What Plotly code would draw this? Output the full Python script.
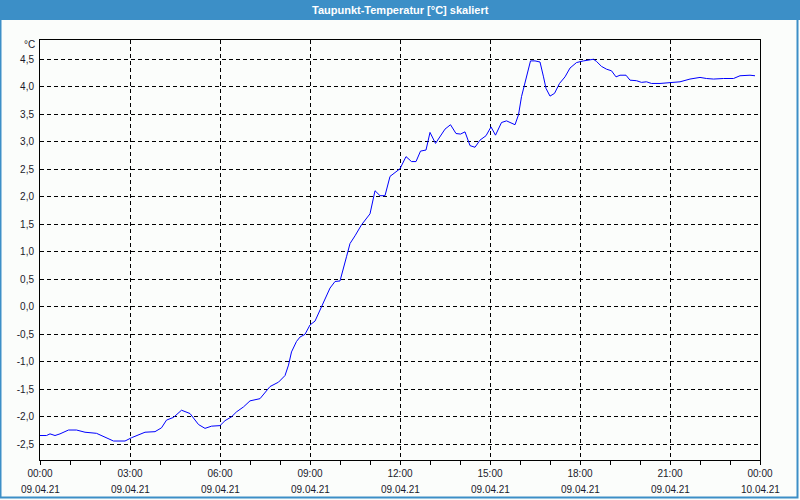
import plotly.graph_objects as go
import pandas as pd

# minutes after 09.04.21 00:00
minutes = [0, 13, 20, 30, 40, 57, 73, 90, 113, 130, 147, 170, 183, 210, 230, 243, 253, 267,
           283, 300, 317, 330, 343, 360, 370, 383, 393, 407, 420, 440, 447, 460, 477, 490,
           497, 503, 513, 520, 530, 540, 550, 560, 570, 580, 590, 600, 613, 620, 630, 643,
           660, 670, 680, 690, 700, 720, 732, 743, 752, 761, 772, 780, 791, 800, 810, 821,
           832, 841, 850, 860, 870, 880, 892, 902, 911, 923, 933, 950, 957, 963, 973, 981,
           990, 1000, 1007, 1012, 1020, 1029, 1039, 1050, 1060, 1073, 1087, 1097, 1107, 1113,
           1123, 1133, 1143, 1152, 1160, 1172, 1180, 1193, 1203, 1213, 1223, 1240, 1260, 1280,
           1300, 1320, 1333, 1347, 1367, 1387, 1400, 1420, 1430]
dewpoint = [-2.34, -2.34, -2.31, -2.34, -2.31, -2.24, -2.24, -2.28, -2.30, -2.37, -2.44, -2.44,
            -2.38, -2.28, -2.27, -2.20, -2.06, -2.01, -1.88, -1.94, -2.14, -2.21, -2.17, -2.16,
            -2.07, -2.00, -1.91, -1.82, -1.71, -1.67, -1.59, -1.45, -1.37, -1.25, -1.06, -0.82,
            -0.63, -0.55, -0.50, -0.33, -0.26, -0.06, 0.14, 0.34, 0.46, 0.47, 0.91, 1.15, 1.29,
            1.49, 1.69, 2.11, 2.02, 2.02, 2.37, 2.51, 2.73, 2.64, 2.64, 2.83, 2.85, 3.17, 2.97,
            3.09, 3.23, 3.31, 3.15, 3.14, 3.18, 2.93, 2.90, 3.03, 3.11, 3.27, 3.12, 3.35, 3.38,
            3.31, 3.49, 3.82, 4.18, 4.47, 4.47, 4.45, 4.18, 3.97, 3.83, 3.88, 4.06, 4.18, 4.34,
            4.44, 4.47, 4.49, 4.50, 4.46, 4.37, 4.32, 4.29, 4.18, 4.21, 4.21, 4.12, 4.11, 4.08,
            4.09, 4.06, 4.06, 4.08, 4.09, 4.14, 4.17, 4.15, 4.14, 4.15, 4.15, 4.20, 4.21, 4.20]

y_ticks = [-2.5, -2.0, -1.5, -1.0, -0.5, 0.0, 0.5, 1.0, 1.5, 2.0, 2.5, 3.0, 3.5, 4.0, 4.5]
y_labels = ["-2,5", "-2,0", "-1,5", "-1,0", "-0,5", "0,0", "0,5", "1,0", "1,5", "2,0",
            "2,5", "3,0", "3,5", "4,0", "4,5"]
x_tick_hours = [0, 3, 6, 9, 12, 15, 18, 21, 24]
x_time_labels = ["00:00", "03:00", "06:00", "09:00", "12:00", "15:00", "18:00", "21:00", "00:00"]
x_date_labels = ["09.04.21", "09.04.21", "09.04.21", "09.04.21", "09.04.21", "09.04.21",
                 "09.04.21", "09.04.21", "10.04.21"]
title = "Taupunkt-Temperatur [°C] skaliert"

start = pd.Timestamp("2021-04-09 00:00")
times = [start + pd.Timedelta(minutes=m) for m in minutes]
tickvals = [start + pd.Timedelta(hours=h) for h in x_tick_hours]

BLUE = "#3c8fc7"
BG = "#fbfdfb"
TXT = "#1a1a2a"
FONT = "Liberation Sans"
W, H = 800, 500
ML, MR, MT, MB = 40, 40, 40, 40
PW, PH = W - ML - MR, H - MT - MB

def px(x):
    return (x - ML) / PW

def py(y):
    return 1 - (y - MT) / PH

fig = go.Figure()
fig.add_trace(go.Scatter(x=times, y=dewpoint, mode="lines",
                         line=dict(color="#0000ff", width=1), hoverinfo="skip"))

annotations = [
    dict(text="<b>" + title + "</b>", xref="paper", yref="paper",
         x=px(W / 2), y=py(10), xanchor="center", yanchor="middle",
         showarrow=False, font=dict(family=FONT, size=11, color="#ffffff")),
    dict(text="°C", xref="paper", yref="paper", x=px(37), y=py(45),
         xanchor="right", yanchor="middle", showarrow=False,
         font=dict(family=FONT, size=10, color=TXT)),
]
for tv, d in zip(tickvals, x_date_labels):
    annotations.append(dict(text=d, xref="x", yref="paper", x=tv, y=py(489),
                            xanchor="center", yanchor="middle", showarrow=False,
                            font=dict(family=FONT, size=10, color=TXT)))

fig.update_layout(
    width=W, height=H,
    margin=dict(l=ML, r=MR, t=MT, b=MB),
    paper_bgcolor=BG, plot_bgcolor=BG,
    showlegend=False,
    font=dict(family=FONT, size=10, color=TXT),
    xaxis=dict(
        range=[start, start + pd.Timedelta(hours=24)],
        tickmode="array", tickvals=tickvals, ticktext=x_time_labels,
        showgrid=True, gridcolor="#000000", griddash="4px,3px", gridwidth=1,
        showline=True, linecolor="#000000", linewidth=1, mirror=True,
        ticks="outside", ticklen=4, tickcolor="#000000",
        minor=dict(dtick=3600000, ticks="outside", ticklen=4, tickcolor="#000000", showgrid=False),
        tickfont=dict(family=FONT, size=10, color=TXT),
        ticklabelstandoff=0,
        zeroline=False,
    ),
    yaxis=dict(
        range=[-2.785, 4.85],
        tickmode="array", tickvals=y_ticks, ticktext=y_labels,
        showgrid=True, gridcolor="#000000", griddash="4px,3px", gridwidth=1,
        showline=True, linecolor="#000000", linewidth=1, mirror=True,
        ticks="", ticklabelstandoff=3,
        tickfont=dict(family=FONT, size=10, color=TXT),
        zeroline=False,
    ),
    shapes=[
        dict(type="rect", xref="paper", yref="paper",
             x0=px(0), x1=px(W), y0=py(20), y1=py(0),
             fillcolor=BLUE, line=dict(width=0), layer="above"),
        dict(type="rect", xref="paper", yref="paper",
             x0=px(0.5), x1=px(W - 2.5), y0=py(H - 2.5), y1=py(0),
             fillcolor="rgba(0,0,0,0)", line=dict(color=BLUE, width=2), layer="above"),
    ],
    annotations=annotations,
)

fig.write_html("out.html")
